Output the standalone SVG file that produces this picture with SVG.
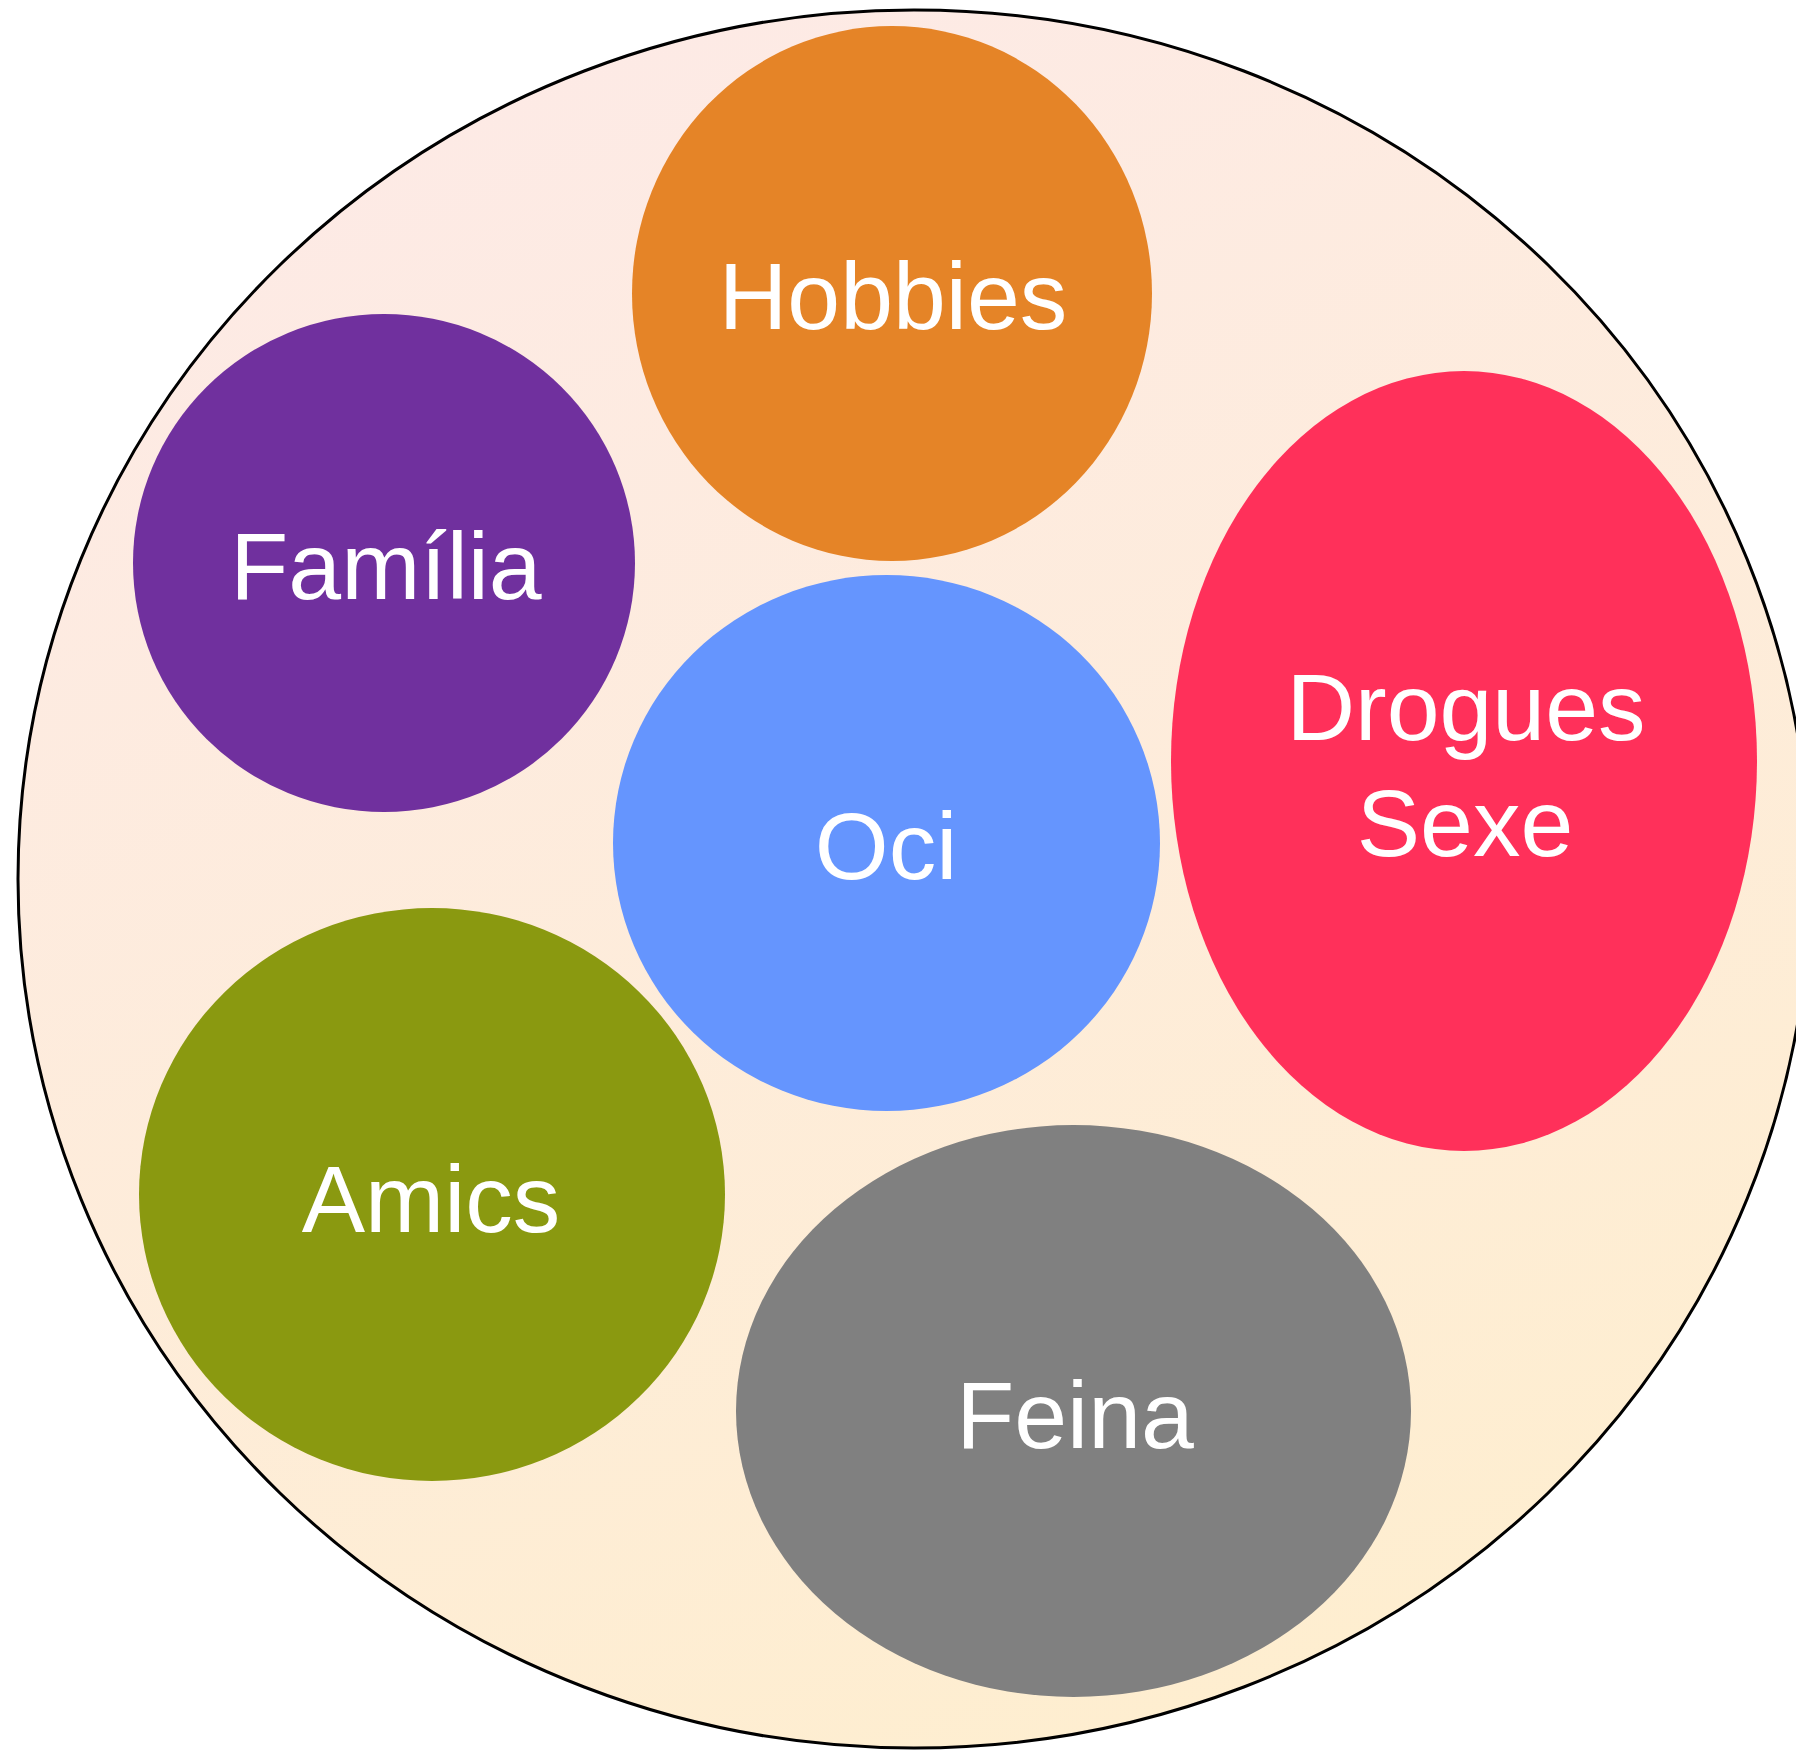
<svg xmlns="http://www.w3.org/2000/svg" width="1796" height="1750" viewBox="0 0 1796 1750">
<defs>
<linearGradient id="bg" x1="0.3" y1="0" x2="0.7" y2="1">
<stop offset="0" stop-color="#FDEAE6"/>
<stop offset="1" stop-color="#FEEECF"/>
</linearGradient>
<style>
.lbl{font-family:"Liberation Sans",Arial,sans-serif;font-size:95px;fill:#FFFFFF;text-anchor:middle}
</style>
</defs>
<rect width="1796" height="1750" fill="#FFFFFF"/>
<g id="container">
<ellipse cx="914" cy="879" rx="896" ry="869" fill="url(#bg)" stroke="#000000" stroke-width="3"/>
</g>
<g id="connectors"></g>
<g id="hobbies">
<ellipse cx="892" cy="293.5" rx="260" ry="267.5" fill="#E58427"/>
<text class="lbl" x="893" y="329">Hobbies</text>
</g>
<g id="familia">
<ellipse cx="384" cy="563" rx="251" ry="249" fill="#70309E"/>
<text class="lbl" x="386" y="599">Família</text>
</g>
<g id="oci">
<ellipse cx="886.5" cy="843" rx="273.5" ry="268" fill="#6595FE"/>
<text class="lbl" x="886" y="879">Oci</text>
</g>
<g id="drogues-sexe">
<ellipse cx="1464" cy="761" rx="293" ry="390" fill="#FF305A"/>
<text class="lbl" x="1466" y="740">Drogues</text>
<text class="lbl" x="1465" y="856">Sexe</text>
</g>
<g id="amics">
<ellipse cx="432" cy="1194.5" rx="293" ry="286.5" fill="#8A9910"/>
<text class="lbl" x="431" y="1232">Amics</text>
</g>
<g id="feina">
<ellipse cx="1073.5" cy="1411" rx="337.5" ry="286" fill="#808080"/>
<text class="lbl" x="1075" y="1448">Feina</text>
</g>
</svg>
